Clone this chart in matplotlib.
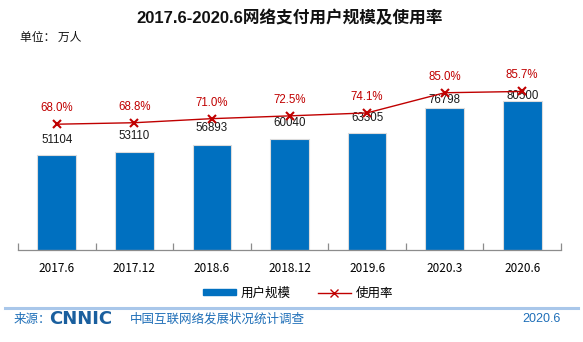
import matplotlib
matplotlib.use("Agg")
import matplotlib.pyplot as plt
from matplotlib.lines import Line2D
from matplotlib.patches import Rectangle
import numpy as np

plt.rcParams['font.family'] = ['Liberation Sans', 'Noto Sans CJK SC', 'DejaVu Sans']

categories = ['2017.6', '2017.12', '2018.6', '2018.12', '2019.6', '2020.3', '2020.6']
users = [51104, 53110, 56893, 60040, 63305, 76798, 80500]
rates = [68.0, 68.8, 71.0, 72.5, 74.1, 85.0, 85.7]

title = '2017.6-2020.6网络支付用户规模及使用率'
unit_text = '单位： 万人'
legend_labels = ['用户规模', '使用率']
source_prefix = '来源：'
source_logo = 'CNNIC'
source_name = '中国互联网络发展状况统计调查'
source_date = '2020.6'

# label offsets (points) above bar tops, to avoid the rate line
value_label_offsets = [11, 11, 12, 11.5, 11, 6, 4]

W, H = 583, 342
fig = plt.figure(figsize=(W / 100, H / 100), dpi=100)
fig.patch.set_facecolor('white')

ax = fig.add_axes([18 / W, 1 - 250 / H, (561 - 18) / W, 185 / H])
ax.patch.set_alpha(0)
x = np.arange(len(categories))
bar_color = '#0070C0'
red = '#C00000'
bars = ax.bar(x, users, width=0.5, color=bar_color, edgecolor='#dcdcdc',
              linewidth=0.8, zorder=2)
ax.set_xlim(-0.5, len(categories) - 0.5)
ax.set_ylim(0, 100000)
ax.set_yticks([])
for s in ['top', 'right', 'left']:
    ax.spines[s].set_visible(False)
ax.spines['bottom'].set_color('#8c8c8c')
ax.spines['bottom'].set_linewidth(0.9)
ax.set_xticks(x)
ax.set_xticklabels(categories, fontsize=8.5, family=['Noto Sans CJK SC', 'DejaVu Sans'])
ax.tick_params(axis='x', length=0, pad=9)
ax.set_xticks(np.arange(-0.5, len(categories)), minor=True)
ax.tick_params(axis='x', which='minor', direction='in', length=5, color='#8c8c8c', width=0.9)

for xi, v, off in zip(x, users, value_label_offsets):
    ax.annotate(f'{v}', (xi, v), xytext=(0, off), textcoords='offset points',
                ha='center', va='center', fontsize=8.3, color='#1a1a1a', zorder=3)

ax2 = ax.twinx()
ax2.set_ylim(0, 100)
ax2.set_yticks([])
for s in ['top', 'right', 'left', 'bottom']:
    ax2.spines[s].set_visible(False)
ax2.plot(x, rates, color=red, linewidth=1.0, marker='x', markersize=6,
         markeredgewidth=1.5, zorder=4)
for xi, r in zip(x, rates):
    ax2.annotate(f'{r:.1f}%', (xi, r), xytext=(0, 11.5), textcoords='offset points',
                 ha='center', va='center', fontsize=8.3, color=red)

# title and unit
fig.text(290 / W, 1 - 18 / H, title, fontsize=12, fontweight='bold',
         ha='center', va='center', color='#111111')
fig.text(20 / W, 1 - 37 / H, unit_text, fontsize=8.5, ha='left', va='center',
         color='#111111', family=['Noto Sans CJK SC', 'DejaVu Sans'])

# legend
handles = [Rectangle((0, 0), 1, 1, color=bar_color),
           Line2D([], [], color=red, marker='x', markersize=6,
                  markeredgewidth=1.0, linewidth=1.0)]
leg = fig.legend(handles, legend_labels, loc='center', bbox_to_anchor=(298 / W, 1 - 293 / H),
                 ncol=2, frameon=False, handlelength=2.6, handleheight=0.45,
                 columnspacing=2.2, handletextpad=0.4,
                 prop={'family': ['Noto Sans CJK SC', 'DejaVu Sans'], 'size': 9})

# bottom band
fig.add_artist(Line2D([5 / W, 578 / W], [1 - 308 / H, 1 - 308 / H],
                      color='#a9c7ea', linewidth=2.2))
src_color = '#1f6fb8'
fig.text(14 / W, 1 - 319 / H, source_prefix, fontsize=9, color=src_color,
         ha='left', va='center', family=['Noto Sans CJK SC', 'DejaVu Sans'])
fig.text(49 / W, 1 - 319 / H, source_logo, fontsize=13, color='#1a5f9e',
         fontweight='bold', ha='left', va='center', family='DejaVu Sans')
fig.text(130 / W, 1 - 319 / H, source_name, fontsize=9, color=src_color,
         ha='left', va='center', family=['Noto Sans CJK SC', 'DejaVu Sans'])
fig.text(561 / W, 1 - 319 / H, source_date, fontsize=9, color=src_color,
         ha='right', va='center')

fig.savefig('out.png', dpi=100, facecolor='white')
